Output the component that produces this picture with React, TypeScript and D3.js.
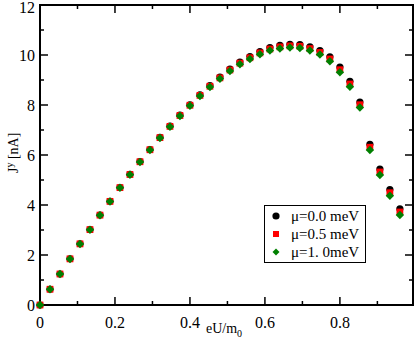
import React, { useEffect, useRef } from 'react';
import * as d3 from 'd3';

// eU/m0 values (same for every series)
const xValues = [
  0, 0.0267, 0.0533, 0.08, 0.1067, 0.1333, 0.16, 0.1867, 0.2133, 0.24,
  0.2667, 0.2933, 0.32, 0.3467, 0.3733, 0.4, 0.4267, 0.4533, 0.48, 0.5067,
  0.5333, 0.56, 0.5867, 0.6133, 0.64, 0.6667, 0.6933, 0.72, 0.7467, 0.7733,
  0.8, 0.8267, 0.8533, 0.88, 0.9067, 0.9333, 0.96
];

const mu00 = [
  0, 0.63, 1.24, 1.85, 2.45, 3.02, 3.6, 4.15, 4.7, 5.23,
  5.74, 6.22, 6.71, 7.16, 7.6, 8.01, 8.41, 8.78, 9.12, 9.44,
  9.72, 9.94, 10.14, 10.3, 10.39, 10.43, 10.42, 10.33, 10.18, 9.93,
  9.52, 8.95, 8.12, 6.43, 5.44, 4.62, 3.85
];

const mu05 = [
  0, 0.63, 1.24, 1.845, 2.445, 3.015, 3.595, 4.145, 4.695, 5.22,
  5.73, 6.21, 6.695, 7.145, 7.58, 7.99, 8.385, 8.75, 9.085, 9.4,
  9.675, 9.89, 10.085, 10.24, 10.325, 10.365, 10.35, 10.255, 10.1, 9.84,
  9.41, 8.84, 8.01, 6.31, 5.32, 4.49, 3.72
];

const mu10 = [
  0, 0.63, 1.24, 1.84, 2.44, 3.01, 3.59, 4.14, 4.69, 5.21,
  5.72, 6.2, 6.68, 7.13, 7.56, 7.97, 8.36, 8.72, 9.05, 9.36,
  9.63, 9.84, 10.03, 10.18, 10.26, 10.3, 10.28, 10.18, 10.02, 9.75,
  9.31, 8.73, 7.9, 6.2, 5.2, 4.37, 3.6
];

const legendLabels = ['\u03bc=0.0 meV', '\u03bc=0.5 meV', '\u03bc=1. 0meV'];
const xTickLabels = ['0', '0.2', '0.4', '0.6', '0.8'];
const yTickLabels = ['0', '2', '4', '6', '8', '10', '12'];

export default function App() {
  const ref = useRef<SVGSVGElement | null>(null);

  useEffect(() => {
    const width = 415;
    const height = 341;
    const left = 40, right = 413, top = 5, bottom = 305;
    const font = '"Liberation Serif", "Times New Roman", serif';

    const svg = d3.select(ref.current);
    svg.selectAll('*').remove();

    const x = d3.scaleLinear().domain([0, 0.995]).range([left, right]);
    const y = d3.scaleLinear().domain([0, 12]).range([bottom, top]);

    const xMajor = xTickLabels.map(Number);
    const xMinor = [0.1, 0.3, 0.5, 0.7, 0.9];
    const yMajor = yTickLabels.map(Number);
    const yMinor = [1, 3, 5, 7, 9, 11];

    const g = svg.append('g');

    // ticks on all four sides, pointing inward
    const tickLines = (vals: number[], len: number) => {
      vals.forEach(v => {
        g.append('line').attr('x1', x(v)).attr('x2', x(v)).attr('y1', bottom).attr('y2', bottom - len)
          .attr('stroke', 'black').attr('stroke-width', 1.5);
        g.append('line').attr('x1', x(v)).attr('x2', x(v)).attr('y1', top).attr('y2', top + len)
          .attr('stroke', 'black').attr('stroke-width', 1.5);
      });
    };
    tickLines(xMajor, 8);
    tickLines(xMinor, 4);

    const yTickLines = (vals: number[], len: number) => {
      vals.forEach(v => {
        g.append('line').attr('y1', y(v)).attr('y2', y(v)).attr('x1', left).attr('x2', left + len)
          .attr('stroke', 'black').attr('stroke-width', 1.5);
        g.append('line').attr('y1', y(v)).attr('y2', y(v)).attr('x1', right).attr('x2', right - len)
          .attr('stroke', 'black').attr('stroke-width', 1.5);
      });
    };
    yTickLines(yMajor, 8);
    yTickLines(yMinor, 4);

    // frame
    g.append('rect')
      .attr('x', left).attr('y', top)
      .attr('width', right - left).attr('height', bottom - top)
      .attr('fill', 'none').attr('stroke', 'black').attr('stroke-width', 2);

    // tick labels
    g.selectAll('.xl').data(xTickLabels).enter().append('text')
      .attr('x', d => x(Number(d)))
      .attr('y', 328)
      .attr('text-anchor', 'middle')
      .attr('font-family', font).attr('font-size', 16)
      .text(d => d);

    // top label nudged down a little so it stays inside the page
    g.selectAll('.yl').data(yTickLabels).enter().append('text')
      .attr('x', 35)
      .attr('y', d => Math.max(y(Number(d)) + 5.5, 12.5))
      .attr('text-anchor', 'end')
      .attr('font-family', font).attr('font-size', 16)
      .text(d => d);

    // axis titles
    const xt = g.append('text')
      .attr('x', 206).attr('y', 333)
      .attr('font-family', font).attr('font-size', 14);
    xt.append('tspan').text('eU/m');
    xt.append('tspan').attr('dy', 4).attr('font-size', 10).text('0');

    const yt = g.append('text')
      .attr('transform', 'translate(18,173) rotate(-90)')
      .attr('font-family', font).attr('font-size', 14);
    yt.append('tspan').text('J');
    yt.append('tspan').attr('dy', -5).attr('font-size', 10).text('y');
    yt.append('tspan').attr('dy', 5).text(' [nA]');

    // data
    const pts = (vals: number[]) => vals.map((v, i) => ({ x: xValues[i], y: v }));

    g.selectAll('.s0').data(pts(mu00)).enter().append('circle')
      .attr('cx', d => x(d.x)).attr('cy', d => y(d.y)).attr('r', 3.6)
      .attr('fill', 'black');

    g.selectAll('.s1').data(pts(mu05)).enter().append('rect')
      .attr('x', d => x(d.x) - 3.4).attr('y', d => y(d.y) - 3.4)
      .attr('width', 6.8).attr('height', 6.8)
      .attr('fill', 'red');

    const diamond = (cx: number, cy: number, r: number) =>
      `M${cx},${cy - r}L${cx + r},${cy}L${cx},${cy + r}L${cx - r},${cy}Z`;

    g.selectAll('.s2').data(pts(mu10)).enter().append('path')
      .attr('d', d => diamond(x(d.x), y(d.y), 4.2))
      .attr('fill', 'green');

    // legend
    const lg = g.append('g');
    lg.append('rect')
      .attr('x', 264.5).attr('y', 205.5).attr('width', 101).attr('height', 57)
      .attr('fill', 'white').attr('stroke', 'black').attr('stroke-width', 1);

    const rowY = [216, 234, 252];
    const mx = 276;
    lg.append('circle').attr('cx', mx).attr('cy', rowY[0]).attr('r', 3.6).attr('fill', 'black');
    lg.append('rect').attr('x', mx - 3).attr('y', rowY[1] - 3).attr('width', 6).attr('height', 6).attr('fill', 'red');
    lg.append('path').attr('d', diamond(mx, rowY[2], 3.5)).attr('fill', 'green');

    lg.selectAll('.lt').data(legendLabels).enter().append('text')
      .attr('x', 291)
      .attr('y', (d, i) => rowY[i] + 5)
      .attr('font-family', font).attr('font-size', 15)
      .text(d => d);

    svg.attr('width', width).attr('height', height);
  }, []);

  return (
    <svg ref={ref} width={415} height={341}
      style={{ position: 'absolute', left: 0, top: 0, background: 'white' }} />
  );
}
